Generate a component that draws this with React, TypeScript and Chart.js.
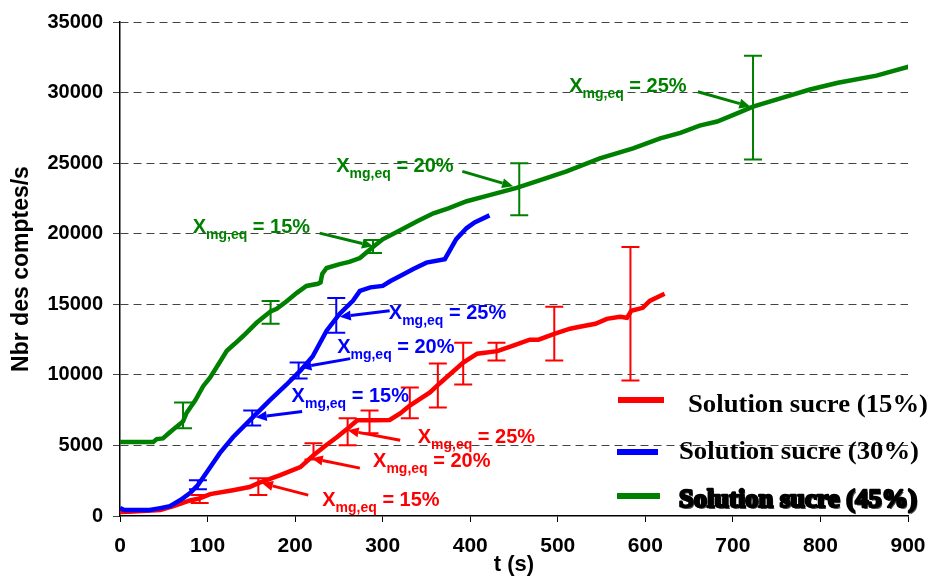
import React, { useEffect, useRef } from 'react';
import { Chart, registerables } from 'chart.js';

Chart.register(...registerables);

const SANS = '"Liberation Sans", Arial, Helvetica, sans-serif';
const SERIF = '"Liberation Serif", "Times New Roman", serif';

const RED = '#ff0000';
const BLUE = '#0000ff';
const GREEN = '#008000';

// x ticks / y ticks
const xTicks = [0, 100, 200, 300, 400, 500, 600, 700, 800, 900];
const yTicks = [0, 5000, 10000, 15000, 20000, 25000, 30000, 35000];

// Solution sucre (45%) – green
const greenT = [0, 38, 42, 49, 57, 65, 72, 76, 86, 95, 103, 113, 122, 131, 141, 156, 172, 179, 190, 202, 213, 226, 229, 231, 236, 251, 262, 274, 289, 300, 320, 340, 358, 375, 396, 420, 453, 480, 510, 548, 586, 617, 640, 662, 682, 700, 723, 760, 787, 820, 864, 902];
const greenV = [5240, 5240, 5450, 5500, 5930, 6350, 6700, 7300, 8190, 9200, 9810, 10800, 11710, 12200, 12770, 13690, 14500, 14680, 15200, 15810, 16300, 16450, 16550, 17150, 17570, 17850, 18000, 18280, 19060, 19600, 20250, 20900, 21450, 21800, 22300, 22700, 23250, 23800, 24420, 25340, 26040, 26750, 27150, 27660, 27950, 28400, 29000, 29700, 30200, 30700, 31200, 31850];

// Solution sucre (30%) – blue
const blueT = [0, 5, 34, 46, 57, 69, 80, 89, 103, 114, 129, 151, 171, 190, 206, 220, 236, 251, 266, 274, 286, 300, 309, 320, 335, 350, 371, 384, 396, 405, 422];
const blueV = [560, 420, 420, 560, 700, 1130, 1620, 2200, 3460, 4450, 5580, 6950, 8190, 9300, 10300, 11300, 13130, 14330, 15240, 15950, 16200, 16300, 16650, 17000, 17500, 17950, 18200, 19620, 20400, 20800, 21300];

// Solution sucre (15%) – red
const redT = [0, 10, 46, 61, 80, 91, 103, 129, 148, 158, 183, 206, 221, 235, 248, 260, 271, 290, 308, 320, 331, 354, 365, 392, 408, 431, 449, 468, 478, 496, 514, 525, 543, 556, 571, 579, 584, 597, 605, 622];
const redV = [280, 300, 420, 700, 1100, 1250, 1550, 1830, 2050, 2330, 2890, 3460, 4300, 5000, 5600, 6200, 6780, 6780, 6800, 7270, 7830, 8750, 9390, 10870, 11500, 11680, 12070, 12490, 12490, 12910, 13270, 13410, 13620, 13970, 14110, 14040, 14540, 14750, 15240, 15740];

// Error bars
const greenErrT = [72, 172, 289, 456, 723];
const greenErrLow = [6210, 13620, 18630, 21300, 25260];
const greenErrHigh = [8050, 15240, 19550, 25000, 32600];

const blueErrT = [89, 151, 204, 247];
const blueErrLow = [1900, 6420, 9740, 12990];
const blueErrHigh = [2540, 7480, 10870, 15450];

const redErrT = [91, 158, 221, 260, 285, 331, 363, 392, 430, 496, 583];
const redErrLow = [920, 1480, 4000, 5010, 5860, 6920, 7690, 9320, 11010, 11010, 9600];
const redErrHigh = [1480, 2680, 5150, 6920, 7480, 9100, 10800, 12280, 12280, 14820, 19050];

// Annotation labels (X_mg,eq = ...)
const annoColor = [GREEN, GREEN, GREEN, BLUE, BLUE, BLUE, RED, RED, RED];
const annoPct = ['15%', '20%', '25%', '25%', '20%', '15%', '25%', '20%', '15%'];
const annoTextT = [83, 247, 513, 307, 248, 196, 340, 289, 231];
const annoTextV = [20040, 24350, 30060, 13970, 11570, 8050, 5150, 3460, 706];
const annoFromT = [228, 391, 660, 308, 263, 208, 320, 274, 215];
const annoFromV = [20040, 24420, 30060, 14540, 11150, 7410, 5360, 3390, 1480];
const annoToT = [289, 449, 720, 251, 206, 155, 260, 219, 162];
const annoToV = [19120, 23360, 29000, 14110, 10520, 6990, 6070, 4090, 2330];

const legendLabels = ['Solution sucre (15%)', 'Solution sucre (30%)', 'Solution sucre (45%)'];
const legendColors = [RED, BLUE, GREEN];

const toPoints = (ts: number[], vs: number[]) => ts.map((t, i) => ({ x: t, y: vs[i] }));

const errorSets = [
  { color: GREEN, t: greenErrT, low: greenErrLow, high: greenErrHigh },
  { color: BLUE, t: blueErrT, low: blueErrLow, high: blueErrHigh },
  { color: RED, t: redErrT, low: redErrLow, high: redErrHigh },
];

const errorBarPlugin = {
  id: 'errorBars',
  afterDatasetsDraw(chart: any) {
    const { ctx, scales } = chart;
    const x = scales.x;
    const y = scales.y;
    ctx.save();
    ctx.lineWidth = 2;
    for (const s of errorSets) {
      ctx.strokeStyle = s.color;
      s.t.forEach((t: number, i: number) => {
        const px = x.getPixelForValue(t);
        const top = y.getPixelForValue(s.high[i]);
        const bot = y.getPixelForValue(s.low[i]);
        ctx.beginPath();
        ctx.moveTo(px, top);
        ctx.lineTo(px, bot);
        ctx.moveTo(px - 9, top);
        ctx.lineTo(px + 9, top);
        ctx.moveTo(px - 9, bot);
        ctx.lineTo(px + 9, bot);
        ctx.stroke();
      });
    }
    ctx.restore();
  },
};

function drawArrow(ctx: CanvasRenderingContext2D, x1: number, y1: number, x2: number, y2: number, color: string) {
  const ang = Math.atan2(y2 - y1, x2 - x1);
  const head = 11;
  const hw = 5;
  const bx = x2 - head * Math.cos(ang);
  const by = y2 - head * Math.sin(ang);
  ctx.strokeStyle = color;
  ctx.fillStyle = color;
  ctx.lineWidth = 3;
  ctx.beginPath();
  ctx.moveTo(x1, y1);
  ctx.lineTo(bx, by);
  ctx.stroke();
  ctx.beginPath();
  ctx.moveTo(x2, y2);
  ctx.lineTo(bx + hw * Math.sin(ang), by - hw * Math.cos(ang));
  ctx.lineTo(bx - hw * Math.sin(ang), by + hw * Math.cos(ang));
  ctx.closePath();
  ctx.fill();
}

const annotationPlugin = {
  id: 'annotations',
  afterDraw(chart: any) {
    const { ctx, scales } = chart;
    const x = scales.x;
    const y = scales.y;
    ctx.save();
    ctx.textBaseline = 'alphabetic';
    ctx.textAlign = 'left';
    annoPct.forEach((pct, i) => {
      const color = annoColor[i];
      const tx = x.getPixelForValue(annoTextT[i]);
      const ty = y.getPixelForValue(annoTextV[i]);
      ctx.fillStyle = color;
      ctx.font = `bold 20px ${SANS}`;
      ctx.fillText('X', tx, ty);
      let w = ctx.measureText('X').width;
      ctx.font = `bold 14px ${SANS}`;
      ctx.fillText('mg,eq', tx + w, ty + 6);
      w += ctx.measureText('mg,eq').width;
      ctx.font = `bold 20px ${SANS}`;
      ctx.fillText(' = ' + pct, tx + w, ty);
      drawArrow(
        ctx,
        x.getPixelForValue(annoFromT[i]),
        y.getPixelForValue(annoFromV[i]),
        x.getPixelForValue(annoToT[i]),
        y.getPixelForValue(annoToV[i]),
        color
      );
    });
    ctx.restore();
  },
};

const legendPlugin = {
  id: 'customLegend',
  afterDraw(chart: any) {
    const { ctx } = chart;
    const lines = [
      { x1: 618, x2: 664, y: 400, tx: 688, ty: 412, w: 240 },
      { x1: 617, x2: 658, y: 452, tx: 679, ty: 459, w: 240 },
      { x1: 617, x2: 660, y: 496, tx: 679, ty: 507, w: 238 },
    ];
    ctx.save();
    lines.forEach((L, i) => {
      ctx.strokeStyle = legendColors[i];
      ctx.lineWidth = 6;
      ctx.beginPath();
      ctx.moveTo(L.x1, L.y);
      ctx.lineTo(L.x2, L.y);
      ctx.stroke();
      ctx.font = `bold 26px ${SERIF}`;
      ctx.textBaseline = 'alphabetic';
      ctx.textAlign = 'left';
      const mw = ctx.measureText(legendLabels[i]).width;
      ctx.save();
      ctx.translate(L.tx, L.ty);
      ctx.scale(L.w / mw, 1);
      ctx.fillStyle = '#000';
      if (i === 2) {
        ctx.fillStyle = '#555';
        ctx.fillText(legendLabels[i], 1.5, 1.5);
        ctx.fillStyle = '#000';
        ctx.strokeStyle = '#000';
        ctx.lineWidth = 2.5;
        ctx.lineJoin = 'round';
        ctx.strokeText(legendLabels[i], 0, 0);
      }
      ctx.fillText(legendLabels[i], 0, 0);
      ctx.restore();
    });
    ctx.restore();
  },
};

export default function App() {
  const canvasRef = useRef<HTMLCanvasElement | null>(null);

  useEffect(() => {
    const canvas = canvasRef.current;
    if (!canvas) return;
    const chart = new Chart(canvas, {
      type: 'line',
      data: {
        datasets: [
          { label: legendLabels[2], data: toPoints(greenT, greenV), borderColor: GREEN, backgroundColor: GREEN, borderWidth: 4.5, pointRadius: 0, tension: 0 },
          { label: legendLabels[1], data: toPoints(blueT, blueV), borderColor: BLUE, backgroundColor: BLUE, borderWidth: 4.5, pointRadius: 0, tension: 0 },
          { label: legendLabels[0], data: toPoints(redT, redV), borderColor: RED, backgroundColor: RED, borderWidth: 4.5, pointRadius: 0, tension: 0 },
        ],
      },
      options: {
        animation: false,
        responsive: false,
        devicePixelRatio: 1,
        layout: { padding: { left: 0, right: 22, top: 20, bottom: 0 } },
        plugins: { legend: { display: false }, tooltip: { enabled: false }, title: { display: false } },
        scales: {
          x: {
            type: 'linear',
            min: 0,
            max: 900,
            afterBuildTicks: (s: any) => { s.ticks = xTicks.map((v) => ({ value: v })); },
            ticks: { font: { family: SANS, size: 21, weight: 'bold' }, color: '#000', padding: 12, maxRotation: 0, autoSkip: false, callback: (v: any) => String(v) },
            grid: { drawOnChartArea: false, drawTicks: true, tickLength: 6, color: '#000', tickColor: '#000' },
            border: { display: true, color: '#000', width: 1.5 },
            title: { display: true, text: 't (s)', color: '#000', font: { family: SANS, size: 22, weight: 'bold' }, padding: { top: 0, bottom: 3 } },
            afterFit: (s: any) => { s.height = 65; s.paddingRight = 20; s.paddingLeft = 10; },
          },
          y: {
            type: 'linear',
            min: 0,
            max: 35000,
            afterBuildTicks: (s: any) => { s.ticks = yTicks.map((v) => ({ value: v })); },
            ticks: { font: { family: SANS, size: 20, weight: 'bold' }, color: '#000', padding: 10, autoSkip: false, callback: (v: any) => String(v) },
            grid: {
              color: (c: any) => (c.tick && c.tick.value === 0 ? 'rgba(0,0,0,0)' : '#444'),
              tickColor: '#444',
              tickLength: 7,
              lineWidth: 1,
            },
            border: { display: true, color: '#000', width: 1.5, dash: [8, 5] },
            title: { display: true, text: 'Nbr des comptes/s', color: '#000', font: { family: SANS, size: 23, weight: 'bold' }, padding: { top: 8, bottom: 0 } },
            afterFit: (s: any) => { s.width = 120; },
          },
        },
      },
      plugins: [errorBarPlugin, annotationPlugin, legendPlugin],
    } as any);
    return () => chart.destroy();
  }, []);

  return (
    <div style={{ position: 'absolute', left: 0, top: 0, width: 930, height: 581, background: '#fff' }}>
      <canvas ref={canvasRef} width={930} height={581} style={{ display: 'block', width: 930, height: 581 }} />
    </div>
  );
}
